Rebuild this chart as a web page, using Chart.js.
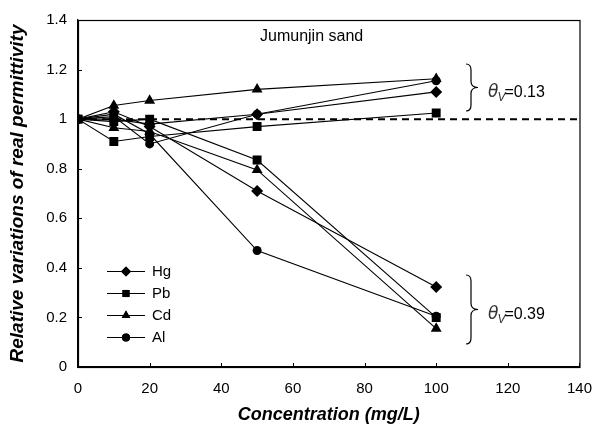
<!DOCTYPE html>
<html>
<head>
<meta charset="utf-8">
<script src="https://cdn.jsdelivr.net/npm/chart.js@4/dist/chart.umd.min.js"></script>
<style>
  html, body { margin: 0; padding: 0; background: #fff; }
  #wrap { width: 605px; height: 430px; }
</style>
</head>
<body>
<div id="wrap"><canvas id="c" width="605" height="430"></canvas></div>
<script>
// ---- data ----
const concentrations = [0, 10, 20, 50, 100];
const metals = ["Hg", "Pb", "Cd", "Al"];
const markerStyles = ["rectRot", "rect", "triangle", "circle"];
// theta_v = 0.13
const hg13 = [1.00, 1.00, 0.98, 1.02, 1.11];
const pb13 = [1.00, 0.91, 0.93, 0.97, 1.025];
const cd13 = [1.00, 1.055, 1.075, 1.12, 1.163];
const al13 = [1.00, 1.01, 0.90, 1.02, 1.155];
// theta_v = 0.39
const hg39 = [1.00, 1.03, 0.97, 0.71, 0.323];
const pb39 = [1.00, 0.99, 1.00, 0.835, 0.20];
const cd39 = [1.00, 0.965, 0.95, 0.795, 0.155];
const al39 = [1.00, 1.02, 0.94, 0.47, 0.205];
const referenceLine = [1, 1];
const referenceX = [0, 140];
const xTicks = [0, 20, 40, 60, 80, 100, 120, 140];
const yTicks = [0, 0.2, 0.4, 0.6, 0.8, 1, 1.2, 1.4];
const chartLabel = "Jumunjin sand";
const thetaLabels = ["0.13", "0.39"];

function pts(vals) { return vals.map((v, i) => ({ x: concentrations[i], y: v })); }
const radii = { rectRot: 6, rect: 6.3, triangle: 6.3, circle: 4.5 };
function series(name, vals, style) {
  return {
    label: name, data: pts(vals),
    borderColor: "#000", backgroundColor: "#000", borderWidth: 1.1,
    pointStyle: style, pointRadius: radii[style], pointBorderWidth: 0,
    pointBackgroundColor: "#000", showLine: true, tension: 0
  };
}
const datasets = [
  {
    label: "ref", data: referenceX.map((x, i) => ({ x, y: referenceLine[i] })),
    borderColor: "#000", borderWidth: 2, borderDash: [7, 5], pointRadius: 0, showLine: true
  },
  series("Hg", hg13, "rectRot"), series("Pb", pb13, "rect"), series("Cd", cd13, "triangle"), series("Al", al13, "circle"),
  series("Hg", hg39, "rectRot"), series("Pb", pb39, "rect"), series("Cd", cd39, "triangle"), series("Al", al39, "circle")
];

const FONT = "'Liberation Sans', Arial, sans-serif";

const decor = {
  id: "decor",
  afterDraw(chart) {
    const { ctx, chartArea: a, scales: { x, y } } = chart;
    ctx.save();
    ctx.strokeStyle = "#000";
    ctx.lineWidth = 1.2;
    // box
    ctx.strokeRect(a.left + 0.5, a.top + 0.5, a.right - a.left, a.bottom - a.top);
    // inward ticks
    ctx.lineWidth = 1;
    ctx.beginPath();
    xTicks.forEach(t => { const px = Math.round(x.getPixelForValue(t)) + 0.5; ctx.moveTo(px, a.bottom); ctx.lineTo(px, a.bottom - 4); });
    yTicks.forEach(t => { const py = Math.round(y.getPixelForValue(t)) + 0.5; ctx.moveTo(a.left, py); ctx.lineTo(a.left + 4, py); });
    ctx.stroke();

    // chart label
    ctx.fillStyle = "#000";
    ctx.font = "16px " + FONT;
    ctx.textBaseline = "middle";
    ctx.textAlign = "left";
    ctx.fillText(chartLabel, 260, 37);

    // braces
    function brace(xL, y0, y1, tipX) {
      const ym = (y0 + y1) / 2;
      const xc = xL + 5;
      ctx.beginPath();
      ctx.moveTo(xL, y0);
      ctx.quadraticCurveTo(xc, y0, xc, y0 + 6);
      ctx.lineTo(xc, ym - 6);
      ctx.quadraticCurveTo(xc, ym, tipX, ym);
      ctx.quadraticCurveTo(xc, ym, xc, ym + 6);
      ctx.lineTo(xc, y1 - 6);
      ctx.quadraticCurveTo(xc, y1, xL, y1);
      ctx.lineWidth = 1.2;
      ctx.stroke();
    }
    brace(466, 64, 111, 478);
    brace(466, 275, 344, 478);

    // theta labels
    function theta(xp, yp, val) {
      ctx.textBaseline = "alphabetic";
      ctx.font = "italic 17px 'DejaVu Sans', sans-serif";
      ctx.fillStyle = "#333";
      ctx.fillText("\u03B8", xp, yp);
      let w = ctx.measureText("\u03B8").width;
      ctx.font = "italic 12px " + FONT;
      ctx.fillText("V", xp + w - 1, yp + 4);
      let w2 = ctx.measureText("V").width;
      ctx.fillStyle = "#000";
      ctx.font = "16px " + FONT;
      ctx.fillText("=" + val, xp + w + w2 - 2, yp);
    }
    theta(488, 97, thetaLabels[0]);
    theta(488, 319, thetaLabels[1]);

    // legend
    const rows = [271, 293, 315, 337];
    metals.forEach((m, i) => {
      const ry = rows[i];
      ctx.strokeStyle = "#000";
      ctx.lineWidth = 1.1;
      ctx.beginPath(); ctx.moveTo(107, ry + 0.5); ctx.lineTo(145, ry + 0.5); ctx.stroke();
      ctx.fillStyle = "#000";
      Chart.helpers.drawPoint(ctx, { pointStyle: markerStyles[i], radius: markerStyles[i] === "circle" ? 4 : 5, rotation: 0, borderWidth: 0 }, 126, ry + 0.5);
      ctx.fill();
      ctx.font = "15px " + FONT;
      ctx.textBaseline = "middle";
      ctx.textAlign = "left";
      ctx.fillText(m, 152, ry + 1);
    });
    ctx.restore();
  }
};

new Chart(document.getElementById("c"), {
  type: "scatter",
  data: { datasets },
  options: {
    responsive: false, animation: false, devicePixelRatio: 1,
    layout: { padding: { left: 0, top: 15, right: 13, bottom: 0 } },
    plugins: { legend: { display: false }, tooltip: { enabled: false } },
    scales: {
      x: {
        type: "linear", min: 0, max: 140,
        afterBuildTicks: s => { s.ticks = xTicks.map(v => ({ value: v })); },
        afterFit: s => { s.height = 63; },
        grid: { display: true, drawOnChartArea: false, drawTicks: false },
        border: { display: true, color: "#000", width: 1.2 },
        ticks: { color: "#000", font: { family: FONT, size: 15 }, padding: 13, maxRotation: 0 },
        title: { display: true, text: "Concentration (mg/L)", color: "#000", font: { family: FONT, size: 18, weight: "bold", style: "italic" }, padding: { top: 0, bottom: 4 } }
      },
      y: {
        type: "linear", min: 0, max: 1.4,
        afterBuildTicks: s => { s.ticks = yTicks.map(v => ({ value: v })); },
        afterFit: s => { s.width = 78; },
        grid: { display: true, drawOnChartArea: false, drawTicks: false },
        border: { display: true, color: "#000", width: 1.2 },
        ticks: { color: "#000", font: { family: FONT, size: 15 }, padding: 11, callback: v => String(Math.round(v * 10) / 10) },
        title: { display: true, text: "Relative variations of real permittivity", color: "#000", font: { family: FONT, size: 19, weight: "bold", style: "italic" }, padding: { top: 6, bottom: 0 } }
      }
    }
  },
  plugins: [decor]
});
</script>
</body>
</html>
